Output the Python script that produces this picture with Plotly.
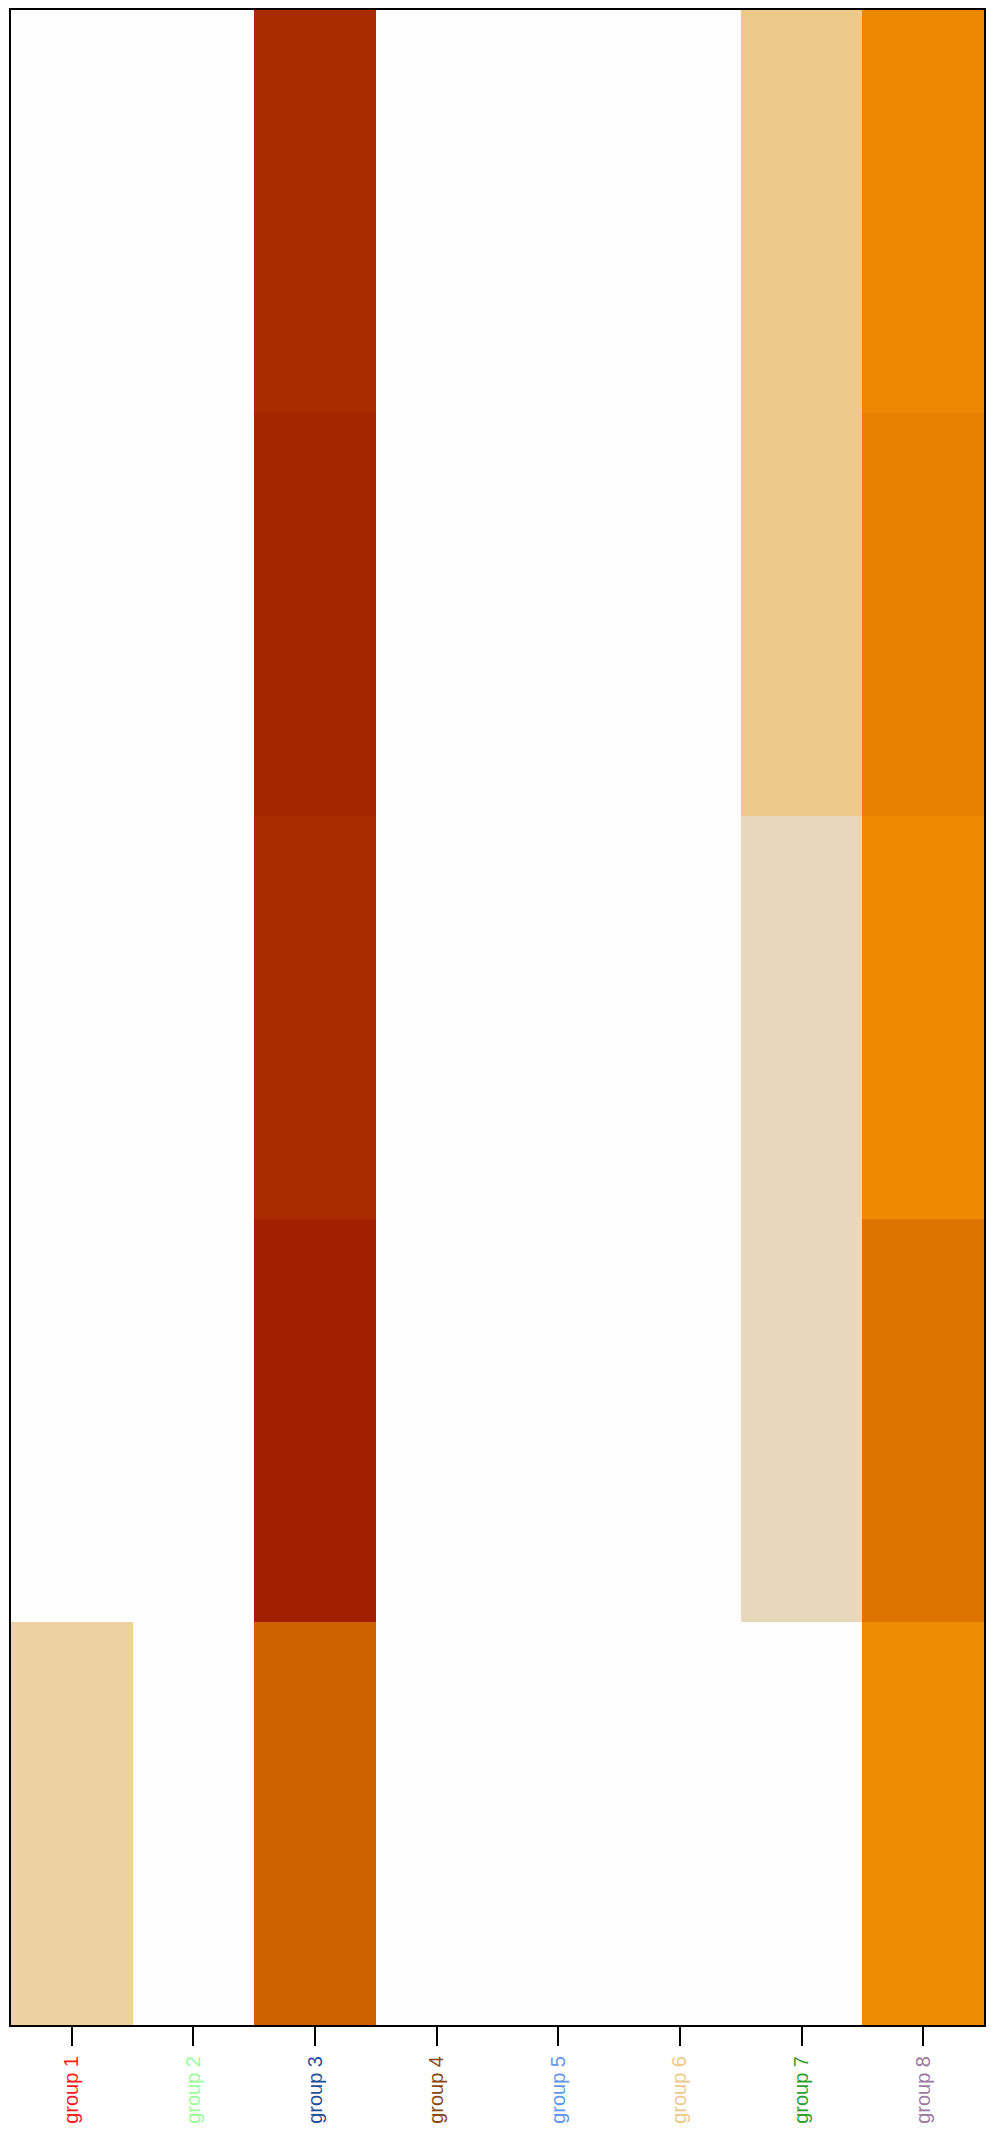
import plotly.graph_objects as go

groups = ["group 1", "group 2", "group 3", "group 4", "group 5", "group 6", "group 7", "group 8"]
label_colors = ["#FF1A1A", "#99FF99", "#1F4E99", "#8B4513", "#6495ED", "#EDC98A", "#2E9E2E", "#9B7A9E"]
rows = ["r1", "r2", "r3", "r4", "r5"]  # bottom to top

# values per group, bottom row to top row
g1 = [22, 0, 0, 0, 0]
g2 = [0, 0, 0, 0, 0]
g3 = [70, 100, 88, 94, 88]
g4 = [0, 0, 0, 0, 0]
g5 = [0, 0, 0, 0, 0]
g6 = [0, 0, 0, 0, 0]
g7 = [0, 10, 10, 30, 30]
g8 = [48, 60, 49, 55, 51]

cols = [g1, g2, g3, g4, g5, g6, g7, g8]
z = [[c[i] for c in cols] for i in range(len(rows))]

colorscale = [
    [0.0, "#FEFEFE"],
    [0.10, "#E8D8BB"],
    [0.22, "#EDD1A1"],
    [0.30, "#EDC98A"],
    [0.48, "#EE8C00"],
    [0.55, "#E68000"],
    [0.60, "#DD7400"],
    [0.70, "#CF6200"],
    [0.88, "#A82C00"],
    [1.0, "#A02000"],
]

fig = go.Figure(go.Heatmap(
    x=groups, y=rows, z=z,
    colorscale=colorscale, zmin=0, zmax=100,
    showscale=False,
))

ticktext = [f'<span style="color:{c}">{g}</span>' for g, c in zip(groups, label_colors)]

fig.update_layout(
    width=986, height=2121,
    margin=dict(l=3, r=10, t=2, b=104),
    paper_bgcolor="white", plot_bgcolor="white",
    font=dict(family="Liberation Sans, Arial, sans-serif", size=20, color="black"),
)
fig.update_xaxes(
    tickmode="array", tickvals=groups, ticktext=ticktext,
    tickangle=-90, ticks="outside", ticklen=19, tickwidth=1.5, tickcolor="black",
    ticklabelstandoff=2, automargin=False,
    showline=True, linecolor="black", linewidth=2, mirror=True,
    showgrid=False, zeroline=False,
)
fig.update_yaxes(
    showticklabels=False, ticks="", automargin=False,
    showline=True, linecolor="black", linewidth=2, mirror=True,
    showgrid=False, zeroline=False,
)

fig.write_html("out.html")
